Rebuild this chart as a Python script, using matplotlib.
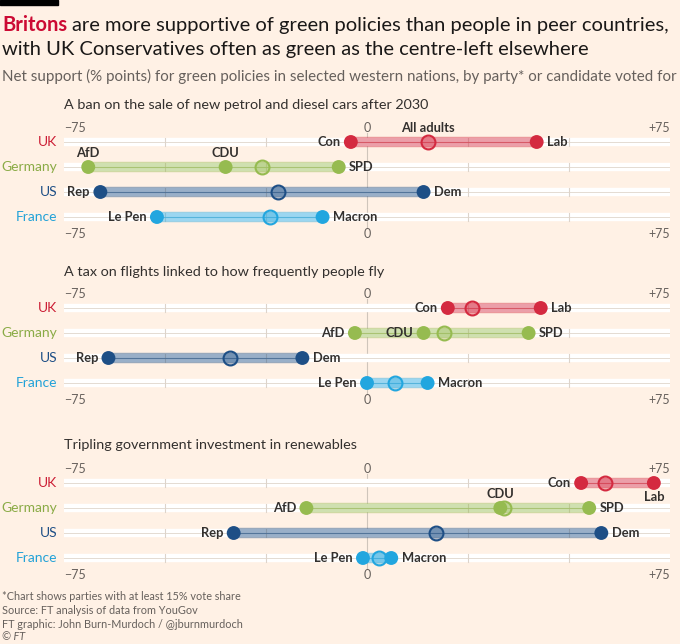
import numpy as np
import matplotlib
matplotlib.use('Agg')
import matplotlib.pyplot as plt
from matplotlib.patches import Rectangle

plt.rcParams['font.family'] = ['Lato', 'DejaVu Sans']

# data
countries = ['UK', 'Germany', 'US', 'France']
panel_titles = ['A ban on the sale of new petrol and diesel cars after 2030',
                'A tax on flights linked to how frequently people fly',
                'Tripling government investment in renewables']

uk_parties = ['Con', 'Lab']
de_parties = ['AfD', 'CDU', 'SPD']
us_parties = ['Rep', 'Dem']
fr_parties = ['Le Pen', 'Macron']

uk_values = [[-4, 42], [20, 43], [53, 71]]
de_values = [[-69, -35, -7], [-3, 14, 40], [-15, 33, 55]]
us_values = [[-66, 14], [-64, -16], [-33, 58]]
fr_values = [[-52, -11], [0, 15], [-1, 6]]

uk_all = [15, 26, 59]
de_all = [-26, 19, 34]
us_all = [-22, -34, 17]
fr_all = [-24, 7, 3]

# label side for each party dot (l=left, r=right, t=top, b=bottom)
label_side = [
    {'UK': ['l', 'r'], 'Germany': ['t', 't', 'r'], 'US': ['l', 'r'], 'France': ['l', 'r']},
    {'UK': ['l', 'r'], 'Germany': ['l', 'l', 'r'], 'US': ['l', 'r'], 'France': ['l', 'r']},
    {'UK': ['l', 'b'], 'Germany': ['l', 't', 'r'], 'US': ['l', 'r'], 'France': ['l', 'r']},
]

colors = {'UK': '#d42a40', 'Germany': '#96bb50', 'US': '#1e4f86', 'France': '#22a6df'}
text_colors = {'UK': '#cc1f36', 'Germany': '#8aab46', 'US': '#1e4f86', 'France': '#22a2d8'}
bg = '#fff1e5'
grey = '#66605c'
dark = '#33302e'

W, H = 680, 644
fig = plt.figure(figsize=(W / 100, H / 100), dpi=100, facecolor=bg)


def px_axes(left, top, width, height):
    return fig.add_axes([left / W, 1 - (top + height) / H, width / W, height / H])


def ftext(x, y, s, **kw):
    return fig.text(x / W, 1 - y / H, s, **kw)


fig.patches.append(Rectangle((0, 1 - 5 / H), 58 / W, 5 / H, transform=fig.transFigure,
                             color='black', zorder=10))

# title
t1 = ftext(2, 25, 'Britons', fontsize=14.5, fontweight='bold', color='#cc0a33', va='center')
fig.canvas.draw()
bb = t1.get_window_extent()
ftext(2 + bb.width + 4.5, 25, 'are more supportive of green policies than people in peer countries,',
      fontsize=14.5, color='#1a1817', va='center')
ftext(2, 49, 'with UK Conservatives often as green as the centre-left elsewhere',
      fontsize=14.5, color='#1a1817', va='center')
ftext(2, 76, 'Net support (% points) for green policies in selected western nations, by party* or candidate voted for',
      fontsize=10.9, color=grey, va='center')

panel_uk_y = [142, 308, 483]
title_y = [105, 272, 445]

party_names = {'UK': uk_parties, 'Germany': de_parties, 'US': us_parties, 'France': fr_parties}
values = {'UK': uk_values, 'Germany': de_values, 'US': us_values, 'France': fr_values}
alls = {'UK': uk_all, 'Germany': de_all, 'US': us_all, 'France': fr_all}

offsets = {'l': ((-7.5, 0), 'right', 'center'), 'r': ((7.5, 0), 'left', 'center'),
           't': ((0, 6), 'center', 'bottom'), 'b': ((0, -6), 'center', 'top')}

for i in range(3):
    y0 = panel_uk_y[i]
    ftext(64, title_y[i], panel_titles[i], fontsize=10.35, color=dark, va='center')
    ax = px_axes(64, y0 - 22, 606, 122)
    ax.set_xlim(-75, 75)
    ax.set_ylim(4.0, -0.88)
    ax.axis('off')
    ax.patch.set_alpha(0)

    ax.plot([0, 0], [-0.35, 3.45], color='#cfc5bb', lw=0.8, zorder=1)
    for yy in [-0.56, 3.68]:
        ax.text(-75, yy, '\u221275', ha='left', va='center', fontsize=9, color=grey)
        ax.text(0, yy, '0', ha='center', va='center', fontsize=9, color=grey)
        ax.text(75, yy, '+75', ha='right', va='center', fontsize=9, color=grey)

    for r, c in enumerate(countries):
        col = colors[c]
        ax.plot([-75, 75], [r, r], color='white', lw=6, solid_capstyle='butt', zorder=1)
        ax.plot([-75, 75], [r, r], color='#e4dbd2', lw=0.7, zorder=1)
        for g in [-50, -25, 25, 50]:
            ax.plot([g, g], [r - 0.15, r + 0.15], color='#ddd4cb', lw=0.8, zorder=1)
        ax.annotate(c, (-75, r), xytext=(-5, 0), textcoords='offset points', ha='right',
                    va='center', fontsize=10, color=text_colors[c], annotation_clip=False)

        v = values[c][i]
        ax.plot([min(v), max(v)], [r, r], color=col, alpha=0.45, lw=7.5, solid_capstyle='butt', zorder=2)
        ax.plot([min(v), max(v)], [r, r], color=col, alpha=0.5, lw=0.8, zorder=2)
        ax.scatter(v, [r] * len(v), s=100, color=col, edgecolor='none', zorder=4)
        ax.scatter([alls[c][i]], [r], s=100, facecolor=matplotlib.colors.to_rgba(col, 0.3),
                   edgecolor=col, linewidth=1.5, zorder=5)
        for name, x, side in zip(party_names[c], v, label_side[i][c]):
            off, ha, va = offsets[side]
            ax.annotate(name, (x, r), xytext=off, textcoords='offset points', ha=ha, va=va,
                        fontsize=9.3, fontweight='bold', color=dark, zorder=6, annotation_clip=False)
        if i == 0 and c == 'UK':
            ax.annotate('All adults', (alls[c][i], r), xytext=(0, 6), textcoords='offset points',
                        ha='center', va='bottom', fontsize=9.3, fontweight='bold', color=dark)

foot = ['*Chart shows parties with at least 15% vote share',
        'Source: FT analysis of data from YouGov',
        'FT graphic: John Burn-Murdoch / @jburnmurdoch']
for k, s in enumerate(foot):
    ftext(2, 597 + 13.5 * k, s, fontsize=7.8, color=grey, va='center')
ftext(2, 637, '\u00a9 FT', fontsize=7.8, color=grey, va='center', style='italic')

fig.savefig('out.png', dpi=100, facecolor=bg)
